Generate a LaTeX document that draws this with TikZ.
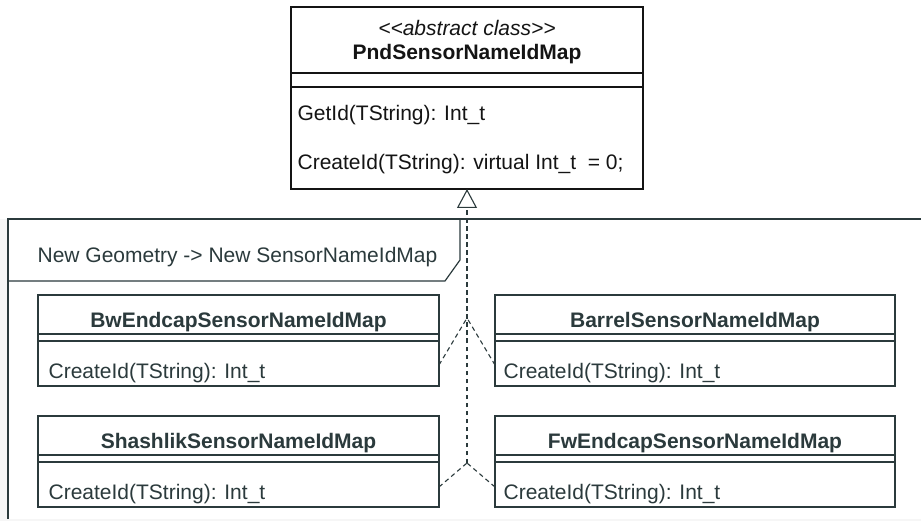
\documentclass[tikz,border=0pt]{standalone}
\usepackage{fontspec}
\setmainfont{Liberation Sans}
\usetikzlibrary{arrows.meta}
\definecolor{ink}{HTML}{2B3A3C}
\definecolor{dark}{HTML}{141414}
\definecolor{paper}{HTML}{F6F6F6}
\begin{document}
\begin{tikzpicture}[x=1pt,y=-1pt,line width=1.2pt,
  box/.style={draw=ink,rectangle,inner sep=0pt,outer sep=0pt},
  txt/.style={font=\fontsize{21}{25}\selectfont,text=ink,inner sep=0pt},
  ttl/.style={txt,font=\fontsize{21}{25}\selectfont\bfseries,anchor=base},
  meth/.style={txt,anchor=base west},
  sep/.style={draw=ink,line width=1.2pt},
  realize/.style={draw=ink,line width=1.1pt,dash pattern=on 4.5pt off 3.5pt}]
\useasboundingbox (0,0) rectangle (921,521);
\fill[white] (0,0) rectangle (921,521);
% faint page margins
\fill[paper] (0,219) rectangle (7,521);
\fill[paper] (0,519) rectangle (921,521);
\clip (0,0) rectangle (921,521);

% package frame with its name tab
\draw[ink] (930,219) -- (8,219) -- (8,519);
\draw[ink] (8,281) -- (445,281) -- (460,260) -- (460,219);
\node[meth] (pkg) at (37,263) {New Geometry -> New SensorNameIdMap};

% abstract base class
\node[box,draw=dark,minimum width=352pt,minimum height=182pt] (pnd) at (467,98) {};
\draw[dark] (pnd.west |- 0,73) -- (pnd.east |- 0,73);
\draw[dark] (pnd.west |- 0,87) -- (pnd.east |- 0,87);
\node[txt,text=dark,anchor=base,font=\fontsize{21}{25}\selectfont\itshape] (stereo) at (467,36) {<\kern0pt<abstract class>\kern0pt>};
\node[ttl,text=dark] (pndname) at (467,60) {PndSensorNameIdMap};
\node[meth,text=dark] (getid) at (297,121) {GetId(TString): Int\_t};
\node[meth,text=dark] (createid) at (297,170) {CreateId(TString): virtual Int\_t \ = 0;};

% concrete classes
\node[box,minimum width=401pt,minimum height=91pt] (bw) at (238.5,340.5) {};
\node[box,minimum width=400pt,minimum height=91pt] (barrel) at (695,340.5) {};
\node[box,minimum width=401pt,minimum height=91pt] (sh) at (238.5,461.5) {};
\node[box,minimum width=400pt,minimum height=91pt] (fw) at (695,461.5) {};

\foreach \b/\ya/\yb in {bw/334/341,barrel/334/341,sh/455/462,fw/455/462}{
  \draw[sep] (\b.west |- 0,\ya) -- (\b.east |- 0,\ya);
  \draw[sep] (\b.west |- 0,\yb) -- (\b.east |- 0,\yb);
}

\node[ttl] (bwname) at (238.5,327) {BwEndcapSensorNameIdMap};
\node[meth] (bwop) at (48,378) {CreateId(TString): Int\_t};
\node[ttl] (barrelname) at (695,327) {BarrelSensorNameIdMap};
\node[meth] (barrelop) at (503,378) {CreateId(TString): Int\_t};
\node[ttl] (shname) at (238.5,448) {ShashlikSensorNameIdMap};
\node[meth] (shop) at (48,499) {CreateId(TString): Int\_t};
\node[ttl] (fwname) at (695,448) {FwEndcapSensorNameIdMap};
\node[meth] (fwop) at (503,499) {CreateId(TString): Int\_t};

% realization connectors merging into one shared line
\coordinate (j1) at (467,318);
\coordinate (j2) at (467,463);
\draw[realize] ([yshift=-24.5pt]bw.east) -- (j1);
\draw[realize] ([yshift=-24.5pt]barrel.west) -- (j1);
\draw[realize] ([yshift=-25.5pt]sh.east) -- (j2);
\draw[realize] ([yshift=-25.5pt]fw.west) -- (j2);
\draw[realize,-{Triangle[open,length=19pt,width=20pt,fill=white]}] (j2) -- (pnd.south);
\end{tikzpicture}
\end{document}
